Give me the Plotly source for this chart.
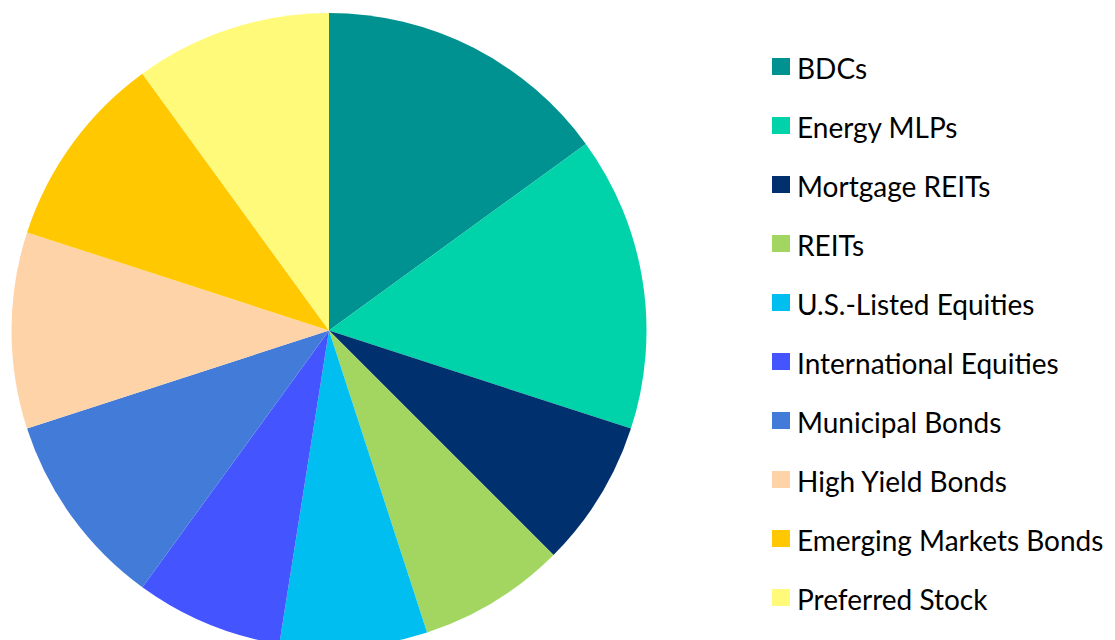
import plotly.graph_objects as go

categories = ["BDCs", "Energy MLPs", "Mortgage REITs", "REITs", "U.S.-Listed Equities",
              "International Equities", "Municipal Bonds", "High Yield Bonds",
              "Emerging Markets Bonds", "Preferred Stock"]
values = [15, 15, 7.5, 7.5, 7.5, 7.5, 10, 10, 10, 10]
colors = ["#009191", "#00D2AA", "#00306E", "#A2D660", "#00BFF0",
          "#4455FF", "#427CD8", "#FFD3A8", "#FFC800", "#FFFA7A"]

W, H = 1115, 640
MT, MB = 5, 0
PH = H - MT - MB
OFF = 8  # page body offset

def py2paper(py):
    return (H - MB - (py - OFF)) / PH

def px2paper(px):
    return (px - OFF) / W

fig = go.Figure()
fig.add_trace(go.Pie(
    labels=categories, values=values, sort=False, direction="clockwise",
    rotation=0, marker=dict(colors=colors, line=dict(width=0)),
    textinfo="none", showlegend=False,
    domain=dict(x=[0, 642 / W], y=[0, 1]),
))

legend_top = 67
step = 59
for i, (name, col) in enumerate(zip(categories, colors)):
    cy = legend_top + i * step
    fig.add_shape(type="rect", xref="paper", yref="paper",
                  x0=px2paper(772), x1=px2paper(790),
                  y0=py2paper(cy + 8), y1=py2paper(cy - 9),
                  fillcolor=col, line=dict(width=0))
    fig.add_annotation(text=name, xref="paper", yref="paper",
                       x=px2paper(795), y=py2paper(cy + 1), xanchor="left", yanchor="middle",
                       showarrow=False, font=dict(family="Lato", size=28, color="#000000"))

fig.update_layout(width=W, height=H, margin=dict(l=0, r=0, t=MT, b=MB),
                  paper_bgcolor="white", plot_bgcolor="white")
fig.write_html("out.html")
